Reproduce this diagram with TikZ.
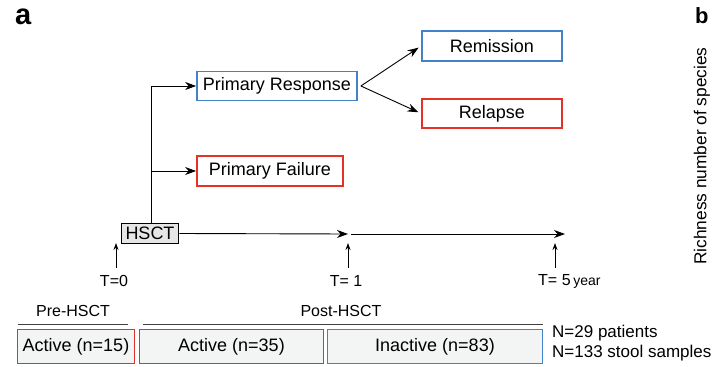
\documentclass[tikz,border=0pt]{standalone}
\usepackage{fontspec}
\setmainfont{Liberation Sans}
\usetikzlibrary{arrows.meta,backgrounds}
\definecolor{bblue}{RGB}{66,130,200}
\definecolor{rred}{RGB}{228,50,40}
\definecolor{boxfill}{RGB}{243,244,244}
\definecolor{hfill}{RGB}{230,230,230}
\tikzset{
  big/.style={font=\fontsize{18}{20}\selectfont},
  mid/.style={font=\fontsize{16}{18}\selectfont},
  bluebox/.style={big, draw=bblue, line width=1.8pt, inner sep=0pt, minimum height=29pt},
  redbox/.style={big, draw=rred, line width=1.8pt, inner sep=0pt, minimum height=29pt},
  arr/.style={line width=0.9pt, -{Stealth[length=11pt,width=8pt]}},
  uparr/.style={line width=0.9pt, -{Stealth[length=7pt,width=5pt]}},
  rule/.style={line width=1pt, draw=black!75},
}
\begin{document}
\begin{tikzpicture}[x=1pt,y=-1pt]
\useasboundingbox (0,0) rectangle (713,367);
% panel labels
\node[anchor=base west, inner sep=0pt, font=\fontsize{29}{30}\selectfont\bfseries] (la) at (15,24) {a};
\node[anchor=base west, inner sep=0pt, font=\fontsize{22}{24}\selectfont\bfseries] (lb) at (695,23) {b};
\node[rotate=90, font=\fontsize{17.3}{19}\selectfont, inner sep=0pt] (rich) at (702,156) {Richness number of species};
% boxes
\node[bluebox, minimum width=160pt] (PR) at (277,86) {Primary Response};
\node[redbox, minimum width=146pt, minimum height=30pt] (PF) at (270,171) {Primary Failure};
\node[bluebox, minimum width=140pt, minimum height=30pt] (REM) at (492,46) {Remission};
\node[redbox, minimum width=140pt] (REL) at (492,113.5) {Relapse};
\node[big, draw, fill=hfill, line width=1.8pt, inner sep=0pt, minimum width=57pt, minimum height=20pt] (HSCT) at (150,233.5) {HSCT};
% tree connectors
\draw[line width=0.9pt] (HSCT.north -| 151,0) -- (151,86);
\coordinate (J1) at (151,86);
\draw[arr] (J1) -- (PR.west);
\draw[arr] (151,171) -- (PF.west);
\coordinate (PRE) at ([xshift=3pt]PR.east);
\draw[arr, shorten >=3pt] (PRE) -- (REM.west);
\draw[arr, shorten >=3pt] (PRE) -- (REL.west);
% timeline
\coordinate (t1) at (348,234);
\coordinate (t1s) at (351,234);
\coordinate (t5) at (565,234);
\draw[arr] (HSCT.east) -- (t1);
\draw[arr] (t1s) -- (t5);
\coordinate (u0a) at (116,268); \coordinate (u0b) at (116,243);
\coordinate (u1a) at (348,268); \coordinate (u1b) at (348,243);
\coordinate (u5a) at (555,268); \coordinate (u5b) at (555,243);
\draw[uparr] (u0a) -- (u0b);
\draw[uparr] (u1a) -- (u1b);
\draw[uparr] (u5a) -- (u5b);
\node[mid, inner sep=0pt] (T0) at (114,281) {T=0};
\node[mid, inner sep=0pt] (T1) at (346,281) {T= 1};
\node[mid, inner sep=0pt, anchor=west] (T5) at (538,281) {T= 5\,{\fontsize{14}{16}\selectfont year}};
% phase headers
\node[mid, inner sep=0pt] (pre) at (73,311) {Pre-HSCT};
\node[mid, inner sep=0pt] (post) at (341,311) {Post-HSCT};
\coordinate (pl1) at (18,324); \coordinate (pl2) at (128,324);
\coordinate (ql1) at (143,324); \coordinate (ql2) at (543,324);
\draw[rule] (pl1) -- (pl2);
\draw[rule] (ql1) -- (ql2);
% bottom boxes
\node[redbox, minimum width=117pt, minimum height=34pt] (A15) at (76,346.5) {Active (n=15)};
\node[redbox, minimum width=184pt, minimum height=34pt] (A35) at (231.5,346.5) {Active (n=35)};
\node[bluebox, minimum width=215pt, minimum height=34pt] (I83) at (435,346.5) {Inactive (n=83)};
\begin{scope}[on background layer]
  \fill[boxfill] (A15.south west) rectangle (A15.north east);
  \fill[boxfill] (A35.south west) rectangle (A35.north east);
  \fill[boxfill] (I83.south west) rectangle (I83.north east);
\end{scope}
\node[font=\fontsize{17}{19}\selectfont, anchor=west, inner sep=0pt] (N1) at (552,333) {N=29 patients};
\node[font=\fontsize{17}{19}\selectfont, anchor=west, inner sep=0pt] (N2) at (552,353) {N=133 stool samples};
\end{tikzpicture}
\end{document}
